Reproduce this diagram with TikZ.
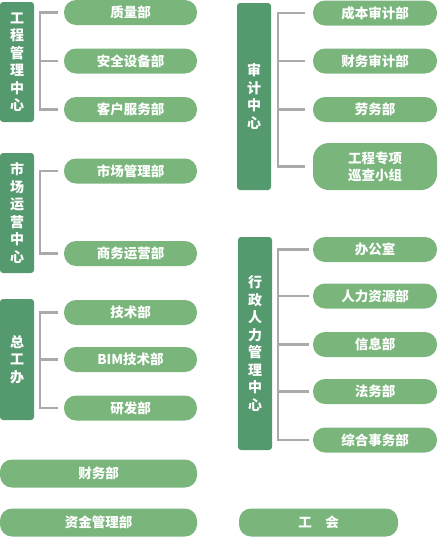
\documentclass[tikz,border=0pt]{standalone}
\usepackage{fontspec}
\newfontfamily\cjk{Noto Sans CJK SC}
\usepackage{tikz}
\usetikzlibrary{positioning, calc}
\definecolor{orgdark}{RGB}{85,153,110}
\definecolor{orglight}{RGB}{122,182,124}
\definecolor{orggray}{RGB}{170,170,170}
\tikzset{
  %% ---- boxes ----
  center/.style = {rectangle, rounded corners=3pt, fill=orgdark,
                   minimum width=34pt, minimum height=#1, inner sep=0pt,
                   text=white, align=center,
                   font=\cjk\bfseries\fontsize{14}{17.5}\selectfont},
  center/.default = 120pt,
  dept/.style   = {rectangle, rounded corners=12pt, fill=orglight,
                   minimum width=#1, minimum height=25pt, inner sep=0pt,
                   text=white, align=center,
                   font=\cjk\bfseries\fontsize{13.5}{17}\selectfont},
  dept/.default = 133pt,
  %% ---- brackets ----
  brk/.style    = {draw=orggray, line width=2.6pt},
}
\begin{document}
\begin{tikzpicture}[x=1pt, y=-1pt]
\useasboundingbox (0,0) rectangle (438,538);

%% left column
\node[center]        (gc) at (17,62)   {工\\程\\管\\理\\中\\心};
\node[dept]          (zl) at (130.5,12.5)  {质量部};
\node[dept]          (aq) at (130.5,61)    {安全设备部};
\node[dept]          (kf) at (130.5,109.5) {客户服务部};

\node[center]        (sc) at (17,213)  {市\\场\\运\\营\\中\\心};
\node[dept]          (scgl) at (130.5,171) {市场管理部};
\node[dept]          (swyy) at (130.5,253.5) {商务运营部};

\node[center=121pt]  (zg) at (17,359.5) {总\\工\\办};
\node[dept]          (js)  at (130.5,312.5) {技术部};
\node[dept]          (bim) at (130.5,359.5) {BIM技术部};
\node[dept]          (yf)  at (130.5,408)   {研发部};

\node[dept=197pt, minimum height=28pt] (cw) at (98.5,473.5) {财务部};
\node[dept=197pt, minimum height=28pt] (zj) at (98.5,522.5) {资金管理部};

%% right column
\node[center=187pt]  (sj) at (254,96.5) {审\\计\\中\\心};
\node[dept=124pt]    (cb) at (375,13)   {成本审计部};
\node[dept=124pt]    (cs) at (375,61)   {财务审计部};
\node[dept=124pt]    (lw) at (375,109.5) {劳务部};
\node[dept=124pt, minimum height=47pt, rounded corners=16pt] (xc) at (375,166.5) {工程专项\\巡查小组};

\node[center=213pt]  (xz) at (255,343.5) {行\\政\\人\\力\\管\\理\\中\\心};
\node[dept=124pt]    (bg) at (375,249.5) {办公室};
\node[dept=124pt]    (rl) at (375,296)   {人力资源部};
\node[dept=124pt]    (xx) at (375,344.5) {信息部};
\node[dept=124pt]    (fw) at (375,391.5) {法务部};
\node[dept=124pt]    (zh) at (375,440)   {综合事务部};

\node[dept=159pt, minimum height=28pt] (gh) at (318.5,522.5) {工\quad 会};

%% brackets
\draw[brk] ([xshift=-6pt]zl.west) -- ++(-18,0) |- ([xshift=-6pt]kf.west);
\draw[brk] ([xshift=-6pt]scgl.west) -- ++(-18,0) |- ([xshift=-6pt]swyy.west);
\draw[brk] ([xshift=-6pt]js.west) -- ++(-18,0) |- ([xshift=-6pt]yf.west);
\draw[brk] ([xshift=-8pt]cb.west) -- ++(-27,0) |- ([xshift=-8pt]xc.west);
\draw[brk] ([xshift=-4pt]bg.west) -- ++(-31,0) |- ([xshift=-4pt]zh.west);
\foreach \p in {aq, bim}
  \draw[brk] ([xshift=-6pt]\p.west) -- ++(-18,0);
\foreach \p in {cs, lw}
  \draw[brk] ([xshift=-8pt]\p.west) -- ++(-27,0);
\foreach \p in {rl, xx, fw}
  \draw[brk] ([xshift=-4pt]\p.west) -- ++(-31,0);
\end{tikzpicture}
\end{document}
